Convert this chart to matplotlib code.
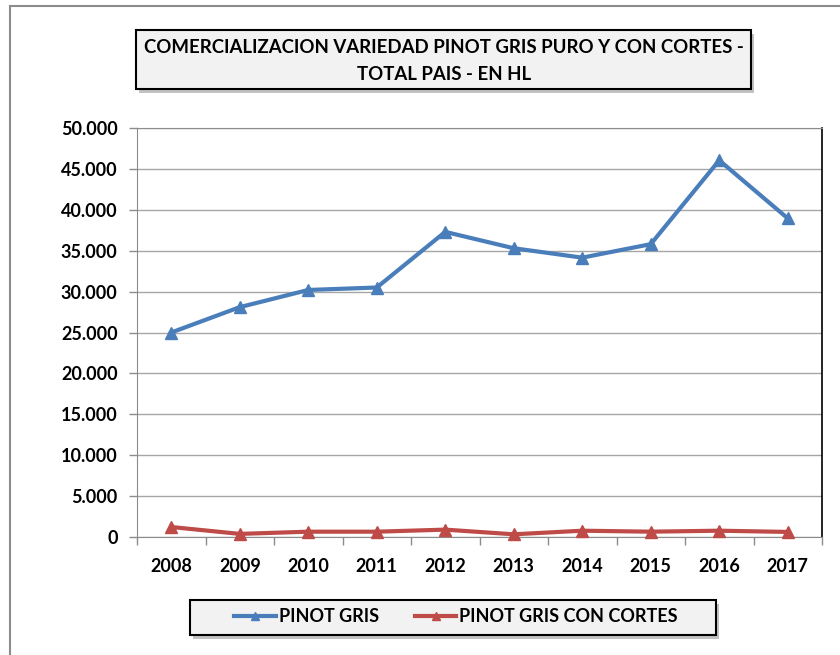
import matplotlib

matplotlib.use("Agg")
import matplotlib.pyplot as plt
from matplotlib.patches import Rectangle
from matplotlib.ticker import FuncFormatter, FixedLocator

years = ["2008", "2009", "2010", "2011", "2012", "2013", "2014", "2015", "2016", "2017"]
pinot_gris = [25000, 28100, 30200, 30500, 37300, 35300, 34150, 35800, 46050, 38950]
pinot_gris_cortes = [1220, 380, 650, 650, 900, 330, 770, 650, 770, 620]

title = "COMERCIALIZACION VARIEDAD PINOT GRIS PURO Y CON CORTES -\nTOTAL PAIS - EN HL"
series_names = ["PINOT GRIS", "PINOT GRIS CON CORTES"]
blue = "#4A7EBB"
red = "#BE4B48"

plt.rcParams["font.family"] = ["Lato", "DejaVu Sans"]
plt.rcParams["font.weight"] = "bold"

W, H = 840, 655
fig = plt.figure(figsize=(W / 100, H / 100), dpi=100)


def fig_box(x0, y0, x1, y1):
    """Pixel box (top-left origin) to figure fraction rect."""
    return (x0 / W, 1 - y1 / H, (x1 - x0) / W, (y1 - y0) / H)


# outer chart frame
fx, fy, fw, fh = fig_box(10, 6, 860, 680)
fig.patches.append(Rectangle((fx, fy), fw, fh, transform=fig.transFigure,
                             fill=False, edgecolor="#8C8C8C", linewidth=1.5))


def shadow_box(x0, y0, x1, y1):
    sx, sy, sw, sh = fig_box(x0 + 3, y0 + 4, x1 + 3, y1 + 4)
    fig.patches.append(Rectangle((sx, sy), sw, sh, transform=fig.transFigure,
                                 facecolor="#9A9A9A", edgecolor="none", alpha=0.6, zorder=1))
    bx, by, bw, bh = fig_box(x0, y0, x1, y1)
    fig.patches.append(Rectangle((bx, by), bw, bh, transform=fig.transFigure,
                                 facecolor="#F2F2F2", edgecolor="black", linewidth=1.5, zorder=2))


shadow_box(136, 30, 751, 89)
fig.text(444 / W, 1 - 61 / H, title, ha="center", va="center", fontsize=13.4,
         fontweight="bold", linespacing=1.65, zorder=3)

ax = fig.add_axes(fig_box(137, 128, 822, 537))
x = range(len(years))
ax.plot(x, pinot_gris, color=blue, linewidth=3, marker="^", markersize=8,
        label=series_names[0], clip_on=False, zorder=3)
ax.plot(x, pinot_gris_cortes, color=red, linewidth=3, marker="^", markersize=8,
        label=series_names[1], clip_on=False, zorder=3)

ax.set_xlim(-0.5, len(years) - 0.5)
ax.set_ylim(0, 50000)
ax.set_yticks(range(0, 50001, 5000))
ax.yaxis.set_major_formatter(FuncFormatter(lambda v, _: f"{int(v):,}".replace(",", ".")))
ax.set_xticks(list(x))
ax.set_xticklabels(years)
ax.xaxis.set_minor_locator(FixedLocator([i - 0.5 for i in range(len(years) + 1)]))
ax.tick_params(axis="x", which="major", length=0, pad=15, labelsize=13)
ax.tick_params(axis="x", which="minor", length=6, color="#8C8C8C", width=1)
ax.tick_params(axis="y", length=6, color="#8C8C8C", width=1, pad=8, labelsize=13)
for lab in ax.get_xticklabels() + ax.get_yticklabels():
    lab.set_fontweight("bold")

ax.grid(axis="y", color="#A6A6A6", linewidth=1)
ax.set_axisbelow(True)
for side in ["left", "bottom", "top"]:
    ax.spines[side].set_color("#8C8C8C")
ax.spines["right"].set_color("black")
ax.spines["right"].set_linewidth(1.2)

shadow_box(190, 600, 716, 635)
handles, labels = ax.get_legend_handles_labels()
leg = fig.legend(handles, labels, loc="center", bbox_to_anchor=(456 / W, 1 - 617 / H),
                 ncol=2, frameon=False, fontsize=13, handlelength=2.3,
                 handletextpad=0.15, columnspacing=2.0, markerscale=0.8)
leg.set_zorder(4)
for t in leg.get_texts():
    t.set_fontweight("bold")

fig.savefig("out.png", dpi=100)
